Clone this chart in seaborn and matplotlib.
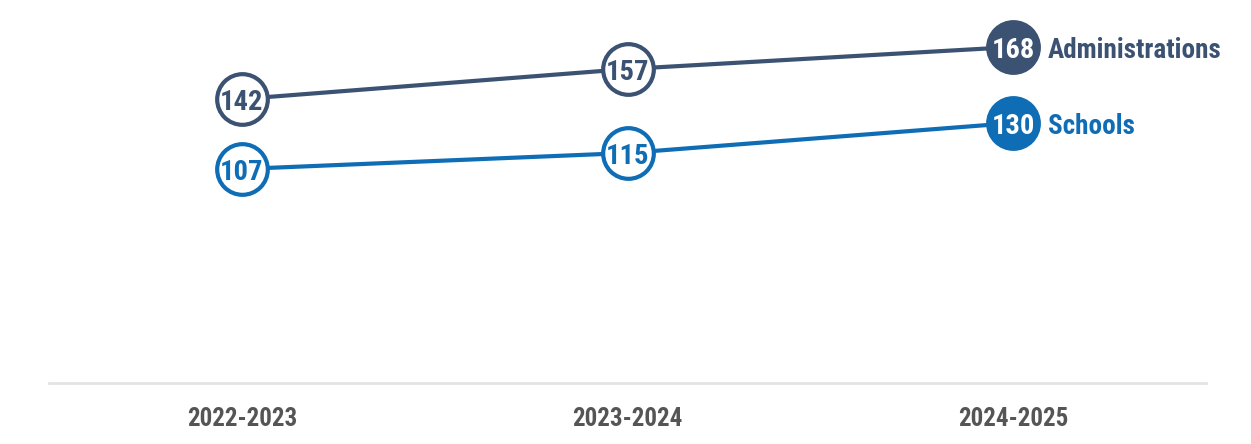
import matplotlib
matplotlib.use("Agg")
import matplotlib.pyplot as plt
from matplotlib import font_manager
import seaborn as sns
import pandas as pd

years = ["2022-2023", "2023-2024", "2024-2025"]
administrations = [142, 157, 168]
schools = [107, 115, 130]
series_names = ["Administrations", "Schools"]
series_colors = ["#3B5273", "#0F6DB5"]

names = {f.name for f in font_manager.fontManager.ttflist}
narrow = "Liberation Sans Narrow" if "Liberation Sans Narrow" in names else "Roboto Condensed" if "Roboto Condensed" in names else "Liberation Sans"

sns.set_theme(style="white")
plt.rcParams['font.family'] = [narrow, 'DejaVu Sans']

rows = []
for name, vals in zip(series_names, [administrations, schools]):
    for i, (y, v) in enumerate(zip(years, vals)):
        rows.append({"year": y, "x": i, "value": v, "series": name})
df = pd.DataFrame(rows)

fig = plt.figure(figsize=(12.51, 4.44), dpi=100)
ax = fig.add_axes([49/1251, (444-383)/444, (1206-49)/1251, (383-20)/444])

palette = dict(zip(series_names, series_colors))
sns.lineplot(data=df, x="x", y="value", hue="series", palette=palette, linewidth=3, legend=False, ax=ax, zorder=2)

for name, vals in zip(series_names, [administrations, schools]):
    c = palette[name]
    for i, v in enumerate(vals):
        last = i == len(vals) - 1
        ax.scatter([i], [v], s=1330, facecolor=c if last else "white", edgecolor=c, linewidth=3, zorder=3)
        ax.text(i, v, str(v), ha="center", va="center_baseline", fontsize=20.5, fontweight="bold",
                color="white" if last else c, zorder=4)
    ax.text(len(vals) - 1 + 0.09, vals[-1], name, ha="left", va="center_baseline", fontsize=19.5,
            fontweight="bold", color=c)

ax.set_xlim(-0.5, 2.5)
ax.set_ylim(0, (383-20)/2.0)
ax.set_xticks(range(len(years)))
ax.set_xticklabels(years, fontsize=18, fontweight="bold", color="#555555")
ax.tick_params(axis="x", length=0, pad=17)
ax.set_yticks([])
ax.set_xlabel("")
ax.set_ylabel("")
for s in ["top", "right", "left"]:
    ax.spines[s].set_visible(False)
ax.spines["bottom"].set_color("#E3E3E3")
ax.spines["bottom"].set_linewidth(2)

fig.savefig("out.png", dpi=100, facecolor="white")
